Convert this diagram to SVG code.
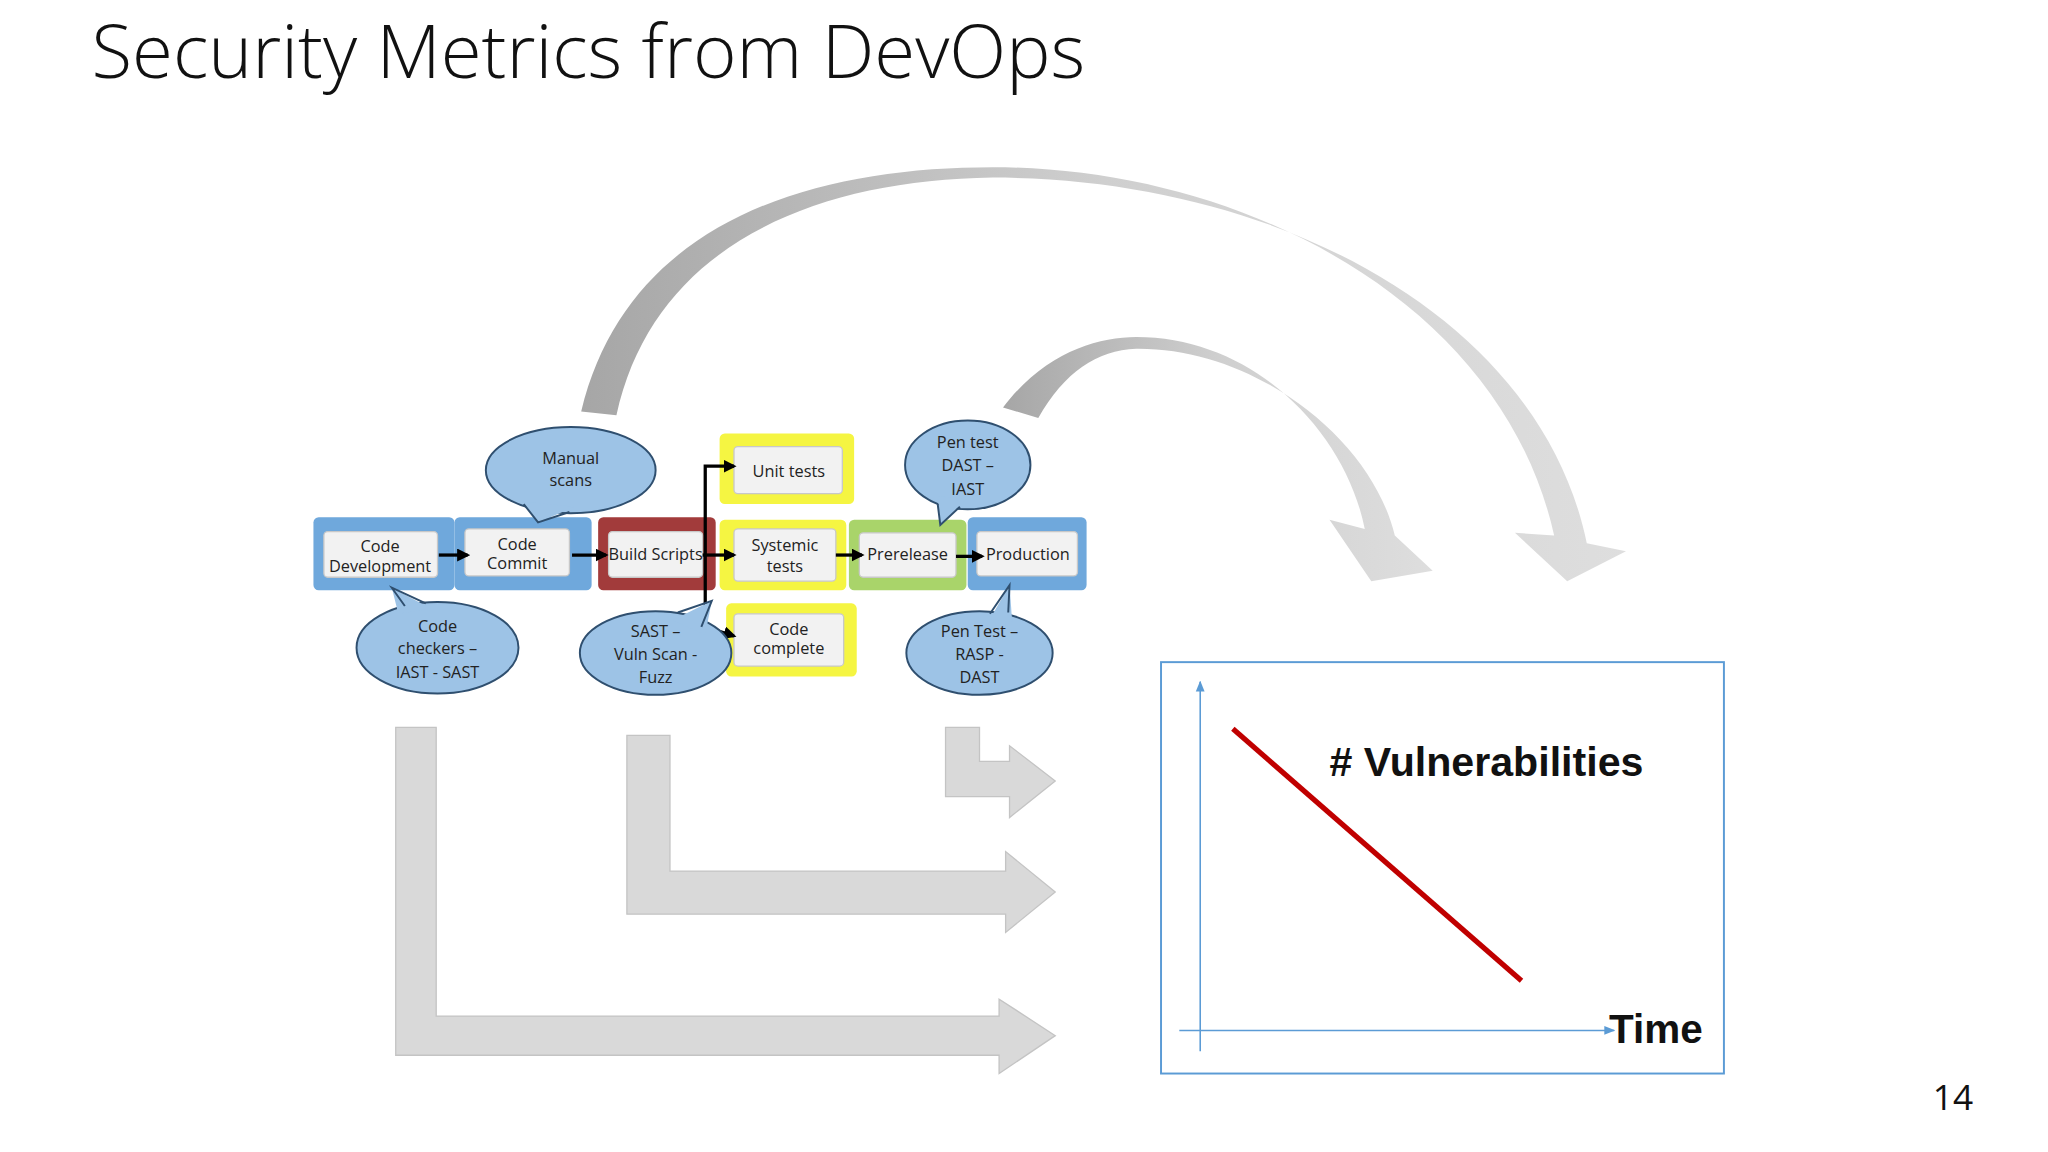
<svg xmlns="http://www.w3.org/2000/svg" width="2048" height="1152" viewBox="0 0 2048 1152">
<style>
.t{font-family:"Open Sans","Liberation Sans",sans-serif;fill:#222;font-size:12.5px;text-anchor:middle}
.in{fill:#f2f2f2;stroke:#c8c8c8;stroke-width:1}
.bub{fill:#9dc3e6;stroke:#2f4f6f;stroke-width:1.5}
.tf{fill:#9dc3e6;stroke:none}
.ts{fill:none;stroke:#2f4f6f;stroke-width:1.5}
.blk{stroke:#000;stroke-width:2.5;fill:none}
.grey{fill:#d9d9d9;stroke:#c4c4c4;stroke-width:1}
</style>
<defs>
<marker id="ah" viewBox="0 0 10 10" refX="8" refY="5" markerWidth="4" markerHeight="4" orient="auto"><path d="M0,0L10,5L0,10z" fill="#000"/></marker>
<marker id="bh" viewBox="0 0 10 10" refX="9" refY="5" markerWidth="7" markerHeight="7" orient="auto"><path d="M0,1L10,5L0,9z" fill="#5b9bd5"/></marker>
<linearGradient id="g1" x1="0" y1="0" x2="1" y2="0"><stop offset="0" stop-color="#a6a6a6"/><stop offset="0.5" stop-color="#cfcfcf"/><stop offset="1" stop-color="#dedede"/></linearGradient>
</defs>
<rect width="2048" height="1152" fill="#fff"/>
<g transform="scale(1.306)">
<text x="70" y="60" font-family="Open Sans,Liberation Sans,sans-serif" font-size="57" fill="#111" font-weight="300">Security Metrics from DevOps</text>
<g id="big-arrows">
<path fill="url(#g1)" d="M445,315 C480,170 620,128 760,128 C950,128 1150,230 1190,410 L1160,408 L1200,445 L1245,422 L1215,416 C1180,245 980,136 760,136 C620,138 500,190 472,318 Z"/>
<path fill="url(#g1)" d="M768,312 C800,270 840,258 870,258 C960,258 1030,330 1045,405 L1018,398 L1050,445 L1097,437 L1068,410 C1050,335 960,266 870,267 C840,268 815,285 795,320 Z"/>
<path class="grey" d="M303,557 L334,557 L334,778 L765,778 L765,765 L808,793 L765,822 L765,808 L303,808 Z"/>
<path class="grey" d="M480,563 L513,563 L513,667 L770,667 L770,652 L808,683 L770,714 L770,700 L480,700 Z"/>
<path class="grey" d="M724,557 L750,557 L750,583 L773,583 L773,571 L808,598 L773,626 L773,610 L724,610 Z"/>
</g>
<g id="code-dev"><rect x="240" y="396" width="108" height="56" rx="4" fill="#6fa8dc"/><rect class="in" x="248" y="407" width="87" height="35" rx="3"/><text class="t" x="291" y="423">Code</text><text class="t" x="291" y="438">Development</text></g>
<g id="code-commit"><rect x="348" y="396" width="105" height="56" rx="4" fill="#6fa8dc"/><rect class="in" x="356" y="405" width="80" height="36" rx="3"/><text class="t" x="396" y="421">Code</text><text class="t" x="396" y="436">Commit</text></g>
<g id="build"><rect x="458" y="396" width="90" height="56" rx="4" fill="#a23b3b"/><rect class="in" x="466" y="407" width="72" height="35" rx="3"/><text class="t" x="502" y="429" font-size="12">Build Scripts</text></g>
<g id="unit"><rect x="551" y="332" width="103" height="54" rx="4" fill="#f5f542"/><rect class="in" x="562" y="342" width="83" height="36" rx="3"/><text class="t" x="604" y="365">Unit tests</text></g>
<g id="systemic"><rect x="551" y="398" width="97" height="54" rx="4" fill="#f5f542"/><rect class="in" x="562" y="405" width="78" height="40" rx="3"/><text class="t" x="601" y="422">Systemic</text><text class="t" x="601" y="438">tests</text></g>
<g id="complete"><rect x="556" y="462" width="100" height="56" rx="4" fill="#f5f542"/><rect class="in" x="562" y="470" width="84" height="40" rx="3"/><text class="t" x="604" y="486">Code</text><text class="t" x="604" y="501">complete</text></g>
<g id="prerelease"><rect x="650" y="398" width="90" height="54" rx="4" fill="#a9d46a"/><rect class="in" x="658" y="408" width="74" height="34" rx="3"/><text class="t" x="695" y="429">Prerelease</text></g>
<g id="production"><rect x="741" y="396" width="91" height="56" rx="4" fill="#6fa8dc"/><rect class="in" x="748" y="407" width="77" height="34" rx="3"/><text class="t" x="787" y="429">Production</text></g>
<g id="connectors">
<line class="blk" x1="336" y1="425" x2="358" y2="425" marker-end="url(#ah)"/>
<line class="blk" x1="438" y1="425" x2="464" y2="425" marker-end="url(#ah)"/>
<line class="blk" x1="538" y1="425" x2="562" y2="425" marker-end="url(#ah)"/>
<line class="blk" x1="640" y1="425" x2="660" y2="425" marker-end="url(#ah)"/>
<line class="blk" x1="732" y1="426" x2="752" y2="426" marker-end="url(#ah)"/>
<path class="blk" d="M540,485 L540,357 L562,357" marker-end="url(#ah)"/>
<path class="blk" d="M540,480 L562,487" marker-end="url(#ah)"/>
</g>
<g id="manual"><ellipse class="bub" cx="437" cy="360" rx="65" ry="33"/><path class="tf" d="M400,384 L412,400 L440,388 Z"/><path class="ts" d="M401,386 L412,400 L436,392"/><text class="t" x="437" y="355">Manual</text><text class="t" x="437" y="372">scans</text></g>
<g id="checkers"><ellipse class="bub" cx="335" cy="496" rx="62" ry="35"/><path class="tf" d="M305,470 L300,450 L330,466 Z"/><path class="ts" d="M310,464 L300,450 L326,462"/><text class="t" x="335" y="484">Code</text><text class="t" x="335" y="501">checkers –</text><text class="t" x="335" y="519">IAST - SAST</text></g>
<g id="sast"><ellipse class="bub" cx="502" cy="500" rx="58" ry="32"/><path class="tf" d="M515,475 L545,460 L540,486 Z"/><path class="ts" d="M519,469 L545,460 L537,480"/><text class="t" x="502" y="488">SAST –</text><text class="t" x="502" y="505">Vuln Scan -</text><text class="t" x="502" y="523">Fuzz</text></g>
<g id="pen1"><ellipse class="bub" cx="741" cy="356" rx="48" ry="34"/><path class="tf" d="M718,380 L720,402 L740,382 Z"/><path class="ts" d="M718,386 L720,402 L735,388"/><text class="t" x="741" y="343">Pen test</text><text class="t" x="741" y="361">DAST –</text><text class="t" x="741" y="379">IAST</text></g>
<g id="pen2"><ellipse class="bub" cx="750" cy="500" rx="56" ry="32"/><path class="tf" d="M758,474 L773,448 L775,476 Z"/><path class="ts" d="M758,470 L773,448 L772,469"/><text class="t" x="750" y="488">Pen Test –</text><text class="t" x="750" y="505">RASP -</text><text class="t" x="750" y="523">DAST</text></g>
<g id="chart">
<rect x="889" y="507" width="431" height="315" fill="#fff" stroke="#5b9bd5" stroke-width="1.5"/>
<line x1="919" y1="805" x2="919" y2="522" stroke="#5b9bd5" stroke-width="1.2" marker-end="url(#bh)"/>
<line x1="903" y1="789" x2="1236" y2="789" stroke="#5b9bd5" stroke-width="1.2" marker-end="url(#bh)"/>
<line x1="944" y1="558" x2="1165" y2="751" stroke="#c00000" stroke-width="4"/>
<text x="1018" y="594" font-family="Liberation Sans,Arial,sans-serif" font-weight="bold" font-size="31.5" fill="#111"># Vulnerabilities</text>
<text x="1232" y="799" font-family="Liberation Sans,Arial,sans-serif" font-weight="bold" font-size="31" fill="#111">Time</text>
</g>
<text x="1480" y="850" font-family="Open Sans,Liberation Sans,sans-serif" font-size="27" fill="#111">14</text>
</g>
</svg>
